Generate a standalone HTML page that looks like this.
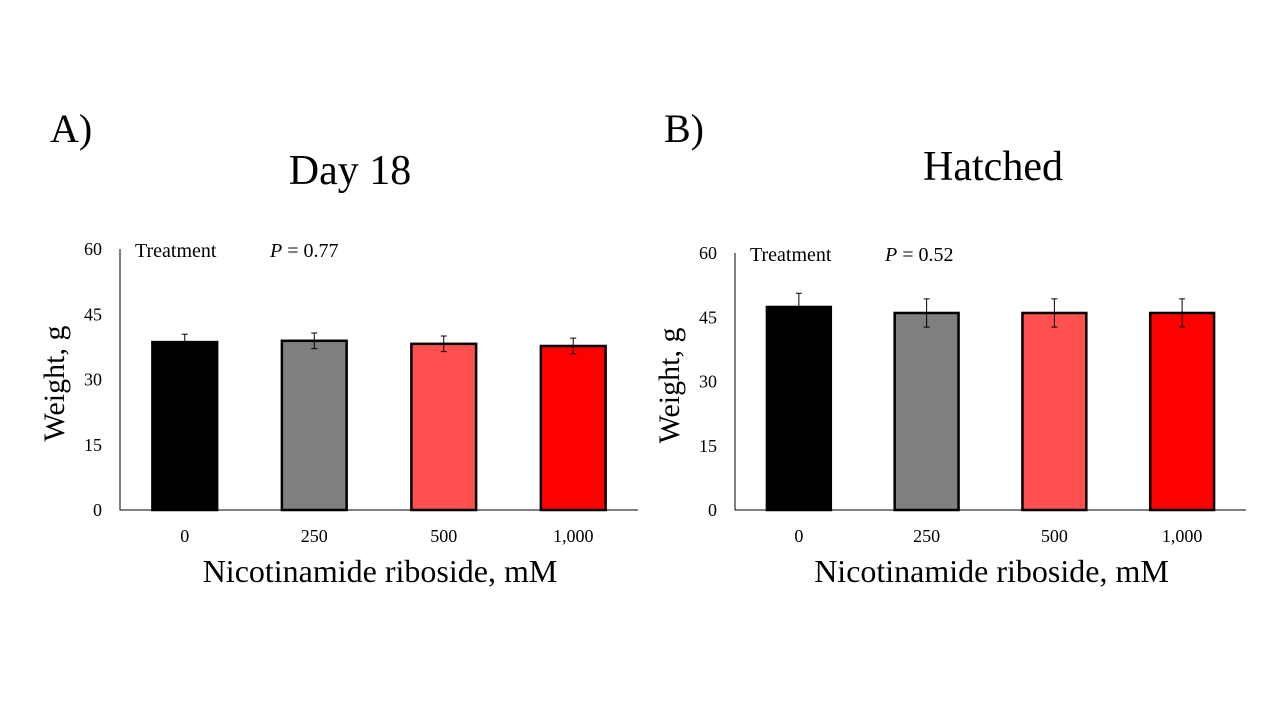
<!DOCTYPE html>
<html><head><meta charset="utf-8">
<style>
body{margin:0;background:#fff;}
svg{display:block;font-family:"Liberation Serif",serif;}
</style></head>
<body>
<svg width="1280" height="720" id="fig"></svg>
<script>
const categories=["0","250","500","1,000"];
const colors=["#000000","#7f7f7f","#ff5050","#ff0000"];
const day18Values=[38.6,38.9,38.2,37.7];
const day18Errors=[1.8,1.8,1.8,1.8];
const hatchedValues=[47.4,46.0,46.0,46.0];
const hatchedErrors=[3.2,3.3,3.3,3.3];
const yTicks=[0,15,30,45,60];

const NS="http://www.w3.org/2000/svg";
const svg=document.getElementById('fig');
function el(tag,attrs,parent,text){const e=document.createElementNS(NS,tag);for(const k in attrs)e.setAttribute(k,attrs[k]);if(text!==undefined)e.textContent=text;(parent||svg).appendChild(e);return e;}

function panel(cfg){
  const g=el('g',{});
  
  
  const y=v=>cfg.y0-(v/60)*(cfg.y0-cfg.y60);
  const slot=(cfg.xEnd-cfg.xAxis)/categories.length;
  const bw=slot*0.5;
  const cx=i=>cfg.xAxis+slot*(i+0.5);
  let t=el('text',{x:cfg.letterX,y:142,'font-size':40},g,cfg.letter);
  
  t=el('text',{x:cfg.titleX,y:cfg.titleY,'font-size':42,'text-anchor':'middle'},g,cfg.title);
  
  yTicks.forEach(v=>{
    const tl=el('text',{x:cfg.xAxis-18,y:y(v)+6,'font-size':18,'text-anchor':'end'},g,String(v));
    
  });
  categories.forEach((c,i)=>{
    const v=cfg.values[i],e=cfg.errors[i];
    const r=el('rect',{x:cx(i)-bw/2,y:y(v),width:bw,height:y(0)-y(v),fill:colors[i],stroke:'#000','stroke-width':2.5},g);
    
    const eb=el('path',{d:`M${cx(i)},${y(v+e)}V${y(v-e)}M${cx(i)-3},${y(v+e)}H${cx(i)+3}M${cx(i)-3},${y(v-e)}H${cx(i)+3}`,stroke:'#000','stroke-width':1,fill:'none'},g);
    
    const xl=el('text',{x:cx(i),y:cfg.y0+32,'font-size':18,'text-anchor':'middle'},g,c);
    
  });
  const ax=el('path',{d:`M${cfg.xAxis},${cfg.y60}V${cfg.y0}H${cfg.xEnd}`,stroke:'#000','stroke-width':1,fill:'none'},g);
  
  t=el('text',{x:(cfg.xAxis+cfg.xEnd)/2+1,y:cfg.y0+72,'font-size':32,'text-anchor':'middle'},g,'Nicotinamide riboside, mM');
  
  t=el('text',{x:0,y:0,'font-size':30,'text-anchor':'middle',transform:`translate(${cfg.xAxis-56},${(cfg.y0+cfg.y60)/2+4}) rotate(-90)`},g,'Weight,  g');
  
  t=el('text',{x:cfg.xAxis+15,y:cfg.y60+8,'font-size':20},g,'Treatment');
  
  t=el('text',{x:cfg.xAxis+150,y:cfg.y60+8,'font-size':20},g);
  
  el('tspan',{'font-style':'italic'},t,'P');el('tspan',{},t,' = '+cfg.p);
}
panel({name:'panel-day18',letter:'A)',letterX:50,title:'Day 18',titleX:350,titleY:184,xAxis:120,xEnd:638,y0:510,y60:249,values:day18Values,errors:day18Errors,p:'0.77'});
panel({name:'panel-hatched',letter:'B)',letterX:664,title:'Hatched',titleX:993,titleY:180,xAxis:735,xEnd:1246,y0:510,y60:253,values:hatchedValues,errors:hatchedErrors,p:'0.52'});
</script>
</body></html>
